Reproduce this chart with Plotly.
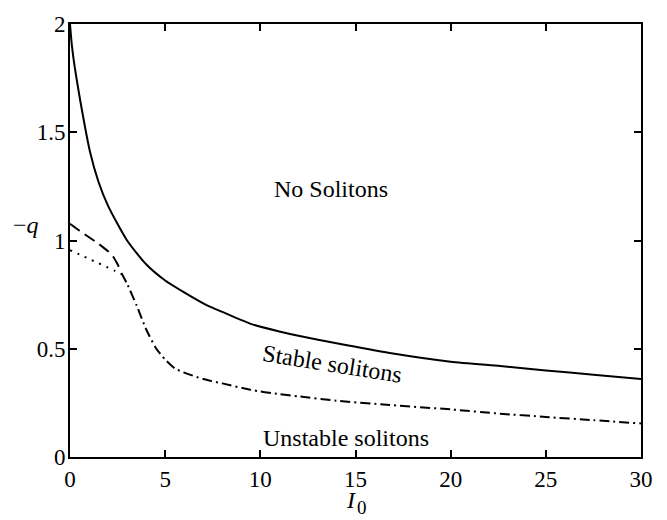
import plotly.graph_objects as go

# Solid boundary: No solitons / Stable solitons
solid_I = [0, 0.1, 0.25, 0.53, 1.05, 1.5, 2, 3, 4, 5, 6, 7.2, 8, 9.5, 11, 12, 14, 16.8, 20, 22.6, 25, 27.5, 30]
solid_q = [2.0, 1.9, 1.8, 1.65, 1.41, 1.27, 1.16, 1.0, 0.89, 0.815, 0.76, 0.70, 0.67, 0.615, 0.58, 0.56, 0.525, 0.48, 0.44, 0.42, 0.40, 0.38, 0.36]

# Dashed upper branch
dash_I = [0, 0.5, 1.0, 1.5, 2.0, 2.27, 2.5, 2.7]
dash_q = [1.077, 1.045, 1.015, 0.985, 0.95, 0.925, 0.89, 0.855]

# Dotted lower branch
dot_I = [0, 0.5, 1.0, 1.5, 2.0, 2.36, 2.7]
dot_q = [0.955, 0.935, 0.915, 0.895, 0.875, 0.86, 0.845]

# Dash-dot boundary: Stable / Unstable solitons
dd_I = [2.7, 3.0, 3.5, 4.0, 4.5, 5.0, 5.5, 6.0, 7.0, 8.0, 9.5, 11, 12, 14, 16.8, 20, 22.6, 25, 27.5, 30]
dd_q = [0.85, 0.80, 0.70, 0.59, 0.505, 0.45, 0.41, 0.39, 0.36, 0.34, 0.31, 0.29, 0.28, 0.26, 0.24, 0.22, 0.20, 0.185, 0.17, 0.155]

x_ticks = [0, 5, 10, 15, 20, 25, 30]
y_ticks = [0, 0.5, 1, 1.5, 2]
y_tick_text = ["0", "0.5", "1", "1.5", "2"]

FONT = "Liberation Serif, Times New Roman, serif"

fig = go.Figure()
fig.add_trace(go.Scatter(x=solid_I, y=solid_q, mode="lines",
                         line=dict(color="black", width=2, shape="spline", smoothing=0.6)))
fig.add_trace(go.Scatter(x=dash_I, y=dash_q, mode="lines",
                         line=dict(color="black", width=2, dash="12px,6px", shape="spline", smoothing=0.6)))
fig.add_trace(go.Scatter(x=dot_I, y=dot_q, mode="lines",
                         line=dict(color="black", width=2, dash="2px,6px", shape="spline", smoothing=0.6)))
fig.add_trace(go.Scatter(x=dd_I, y=dd_q, mode="lines",
                         line=dict(color="black", width=2, dash="10px,4px,2px,4px", shape="spline", smoothing=0.6)))

axis_common = dict(showline=True, linecolor="black", linewidth=2, mirror="ticks",
                   ticks="inside", ticklen=7, tickwidth=2, tickcolor="black",
                   showgrid=False, zeroline=False,
                   tickfont=dict(family=FONT, size=23, color="black"))

fig.update_xaxes(range=[0, 30], tickvals=x_ticks, ticktext=[str(v) for v in x_ticks],
                 **axis_common)
fig.update_yaxes(range=[0, 2], tickvals=y_ticks, ticktext=y_tick_text,
                 ticklabelstandoff=-2, **axis_common)

ann_font = dict(family=FONT, size=24, color="black")
fig.add_annotation(x=13.7, y=1.24, text="No Solitons", showarrow=False, font=ann_font)
fig.add_annotation(x=13.8, y=0.43, text="Stable solitons", showarrow=False, font=ann_font, textangle=9)
fig.add_annotation(x=14.5, y=0.09, text="Unstable solitons", showarrow=False, font=ann_font)
fig.add_annotation(x=-0.077, xref="paper", xanchor="center", y=1.07, yref="y", yanchor="middle",
                   text="−<i>q</i>", showarrow=False, font=ann_font)
fig.add_annotation(x=14.77, y=-0.1, yref="paper", xanchor="center", yanchor="middle",
                   text="<i>I</i>", showarrow=False, font=ann_font)
fig.add_annotation(x=14.95, y=-0.117, yref="paper", xanchor="left", yanchor="middle",
                   text="0", showarrow=False, font=dict(family=FONT, size=19, color="black"))

fig.update_layout(width=667, height=520, showlegend=False,
                  margin=dict(l=70, r=26, t=13, b=63),
                  plot_bgcolor="white", paper_bgcolor="white")

fig.write_html("out.html")
